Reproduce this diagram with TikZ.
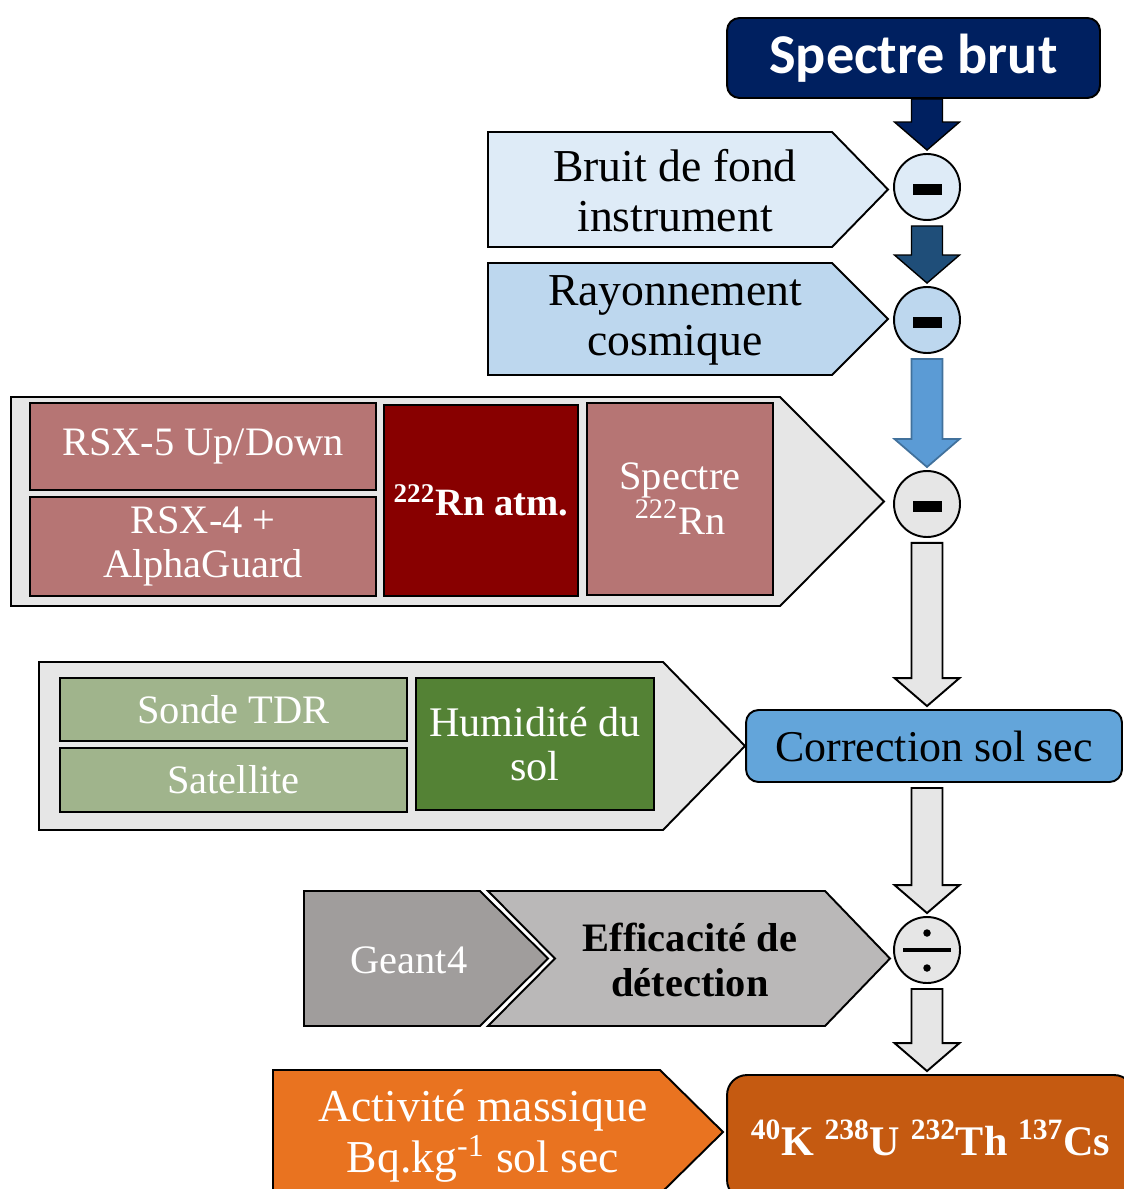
\documentclass[tikz,border=0pt]{standalone}
\usepackage{fontspec}
\setmainfont{Liberation Serif}
\newfontfamily\headfont{Carlito}
\usetikzlibrary{calc}

\definecolor{navyblue}{HTML}{002060}
\definecolor{darkblue}{HTML}{1F4E79}
\definecolor{midblue}{HTML}{5B9BD5}
\definecolor{midblueline}{HTML}{41719C}
\definecolor{paleblue}{HTML}{DEEBF7}
\definecolor{lightblue}{HTML}{BDD7EE}
\definecolor{corrblue}{HTML}{63A5DA}
\definecolor{panelgray}{HTML}{E6E6E6}
\definecolor{rosy}{HTML}{B67574}
\definecolor{darkred}{HTML}{880000}
\definecolor{sage}{HTML}{A0B48C}
\definecolor{leafgreen}{HTML}{548235}
\definecolor{geantgray}{HTML}{A09D9C}
\definecolor{efficgray}{HTML}{BAB8B8}
\definecolor{orangefill}{HTML}{E97320}
\definecolor{rustfill}{HTML}{C55A11}

\newcommand\bigfont{\fontsize{26}{28.5}\selectfont}
\newcommand\midfont{\fontsize{23}{25.5}\selectfont}

% pentagon arrow: style, left, top, right, tip, bottom
\newcommand\pentabox[6]{%
  \draw[#1] (#2,#3) -- (#4,#3) -- (#5,{(#3+#6)/2}) -- (#4,#6) -- (#2,#6) -- cycle;}

% fat arrow between two nodes, on the axis
\newcommand\blockarrow[4][0.1cm]{%
  \draw[#2] let \p1=(#3.south), \p2=(#4.north), \p3=(axis) in
    (\x3-0.31cm,\y1-#1) -- (\x3+0.31cm,\y1-#1) -- (\x3+0.31cm,\y2+0.62cm)
    -- (\x3+0.65cm,\y2+0.62cm) -- (\x3,\y2+0.06cm) -- (\x3-0.65cm,\y2+0.62cm)
    -- (\x3-0.31cm,\y2+0.62cm) -- cycle;}

\tikzset{
  panel/.style={draw, line width=1.1pt},
  cell/.style={draw, line width=1.1pt, text=white, align=center, inner sep=0pt, font=\midfont},
  rounded/.style={draw, line width=1.1pt, rounded corners=0.25cm, align=center, inner sep=0pt},
  plaintext/.style={align=center, inner sep=0pt, font=\bigfont},
  opcircle/.style={draw, circle, line width=1.1pt, minimum size=1.32cm, inner sep=0pt},
  opminus/.style={opcircle, path picture={
      \fill[black] ([xshift=-0.29cm,yshift=-0.16cm]path picture bounding box.center)
        rectangle ([xshift=0.29cm,yshift=0.06cm]path picture bounding box.center);}},
  opdiv/.style={opcircle, path picture={
      \draw[black, line width=0.08cm] ([xshift=-0.48cm]path picture bounding box.center)
        -- ([xshift=0.48cm]path picture bounding box.center);
      \fill[black] ([yshift=0.34cm]path picture bounding box.center) circle (0.075cm);
      \fill[black] ([yshift=-0.36cm]path picture bounding box.center) circle (0.075cm);}},
  darkarrow/.style={line width=0.8pt, draw=black},
  grayarrow/.style={line width=1.1pt, draw=black, fill=panelgray}
}

\begin{document}
\begin{tikzpicture}[x=0.02cm, y=-0.02cm]
  \useasboundingbox (0,0) rectangle (1124,1189);
  \clip (0,0) rectangle (1124,1189);
  \coordinate (axis) at (927,0);

  % top of the chain
  \node[rounded, fill=navyblue, text=white, minimum width=7.46cm, minimum height=1.6cm,
        font=\headfont\bfseries\fontsize{32}{34}\selectfont] (brut) at (913.5,58) {Spectre brut};

  \pentabox{panel, fill=paleblue}{488}{132}{832}{888}{247}
  \node[plaintext] (bruit) at (675,191) {Bruit de fond\\instrument};
  \node[opminus, fill=paleblue] (c1) at (927,187) {};

  \pentabox{panel, fill=lightblue}{488}{263}{832}{888}{375}
  \node[plaintext] (cosmic) at (675,320) {Rayonnement\\cosmique};
  \node[opminus, fill=lightblue] (c2) at (927,320) {};

  % radon panel
  \pentabox{panel, fill=panelgray}{11}{397}{780}{884}{606}
  \node[cell, fill=rosy, minimum width=6.92cm, minimum height=1.74cm] (rsx5) at (203,446.5) {RSX-5 Up/Down};
  \node[cell, fill=rosy, minimum width=6.92cm, minimum height=1.98cm] (rsx4) at (203,546.5) {RSX-4 +\\AlphaGuard};
  \node[cell, fill=darkred, minimum width=3.88cm, minimum height=3.82cm, font=\fontsize{22}{25}\selectfont\bfseries] (rnatm) at (481,500.5) {\textsuperscript{222}Rn atm.};
  \node[cell, fill=rosy, minimum width=3.72cm, minimum height=3.84cm] (rnspec) at (680,499) {Spectre\\\textsuperscript{222}Rn};
  \node[opminus, fill=panelgray] (c3) at (927,504) {};

  % soil moisture panel
  \pentabox{panel, fill=panelgray}{39}{662}{663}{745}{830}
  \node[cell, fill=sage, minimum width=6.94cm, minimum height=1.26cm] (tdr) at (233.5,709.5) {Sonde TDR};
  \node[cell, fill=sage, minimum width=6.94cm, minimum height=1.28cm] (sat) at (233.5,780) {Satellite};
  \node[cell, fill=leafgreen, minimum width=4.76cm, minimum height=2.64cm, font=\fontsize{24}{25.5}\selectfont] (humid) at (535,744) {Humidité du\\sol};
  \node[rounded, fill=corrblue, minimum width=7.52cm, minimum height=1.44cm, font=\fontsize{25}{28}\selectfont] (corr) at (934,746) {Correction sol sec};

  % efficiency
  \draw[panel, fill=geantgray] (304,891) -- (480,891) -- (548,958.5) -- (480,1026) -- (304,1026) -- cycle;
  \draw[panel, fill=efficgray] (488,891) -- (825,891) -- (890,958.5) -- (825,1026) -- (488,1026) -- (555,958.5) -- cycle;
  \node[plaintext, text=white, font=\midfont] (geant) at (409,960) {Geant4};
  \node[plaintext, font=\midfont\bfseries] (effic) at (690,960) {Efficacité de\\détection};
  \node[opdiv, fill=panelgray] (c4) at (927,950) {};

  % result
  \pentabox{panel, fill=orangefill}{273}{1070}{660}{723}{1194}
  \node[plaintext, text=white] (activ) at (483,1136) {Activité massique\\Bq.kg\textsuperscript{-1} sol sec};
  \node[rounded, fill=rustfill, text=white, rounded corners=0.4cm, minimum width=8.14cm, minimum height=2.5cm,
        font=\bfseries\fontsize{24}{28}\selectfont] (result) at (930.5,1137.5)
        {\textsuperscript{40}K \textsuperscript{238}U \textsuperscript{232}Th \textsuperscript{137}Cs};

  % arrows down the chain
  \blockarrow[0cm]{darkarrow, fill=navyblue}{brut}{c1}
  \blockarrow{darkarrow, fill=darkblue}{c1}{c2}
  \blockarrow{line width=1pt, draw=midblueline, fill=midblue}{c2}{c3}
  \blockarrow{grayarrow}{c3}{corr}
  \blockarrow{grayarrow}{corr}{c4}
  \blockarrow{grayarrow}{c4}{result}
\end{tikzpicture}
\end{document}
